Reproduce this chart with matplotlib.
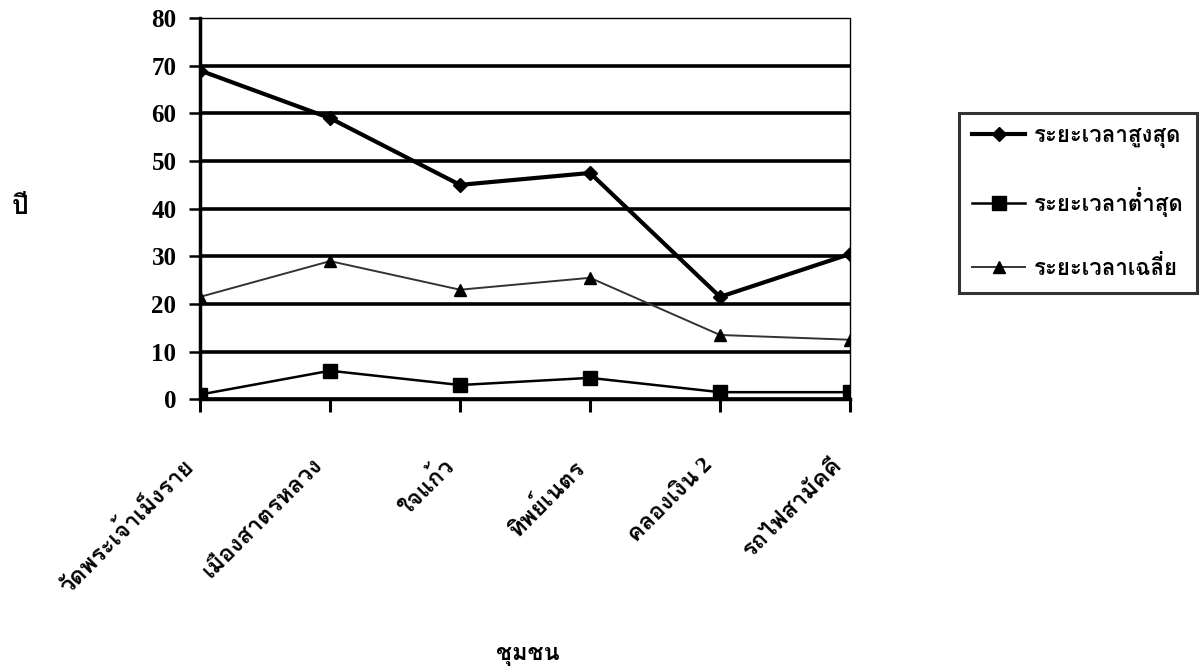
import matplotlib
matplotlib.use("Agg")
import matplotlib.pyplot as plt
import matplotlib.transforms as mtransforms
from matplotlib import font_manager
from fontTools.ttLib import TTFont

# categories and values
communities = ["วัดพระเจ้าเม็งราย", "เมืองสาตรหลวง", "ใจแก้ว", "ทิพย์เนตร",
               "คลองเงิน 2", "รถไฟสามัคคี"]
max_years = [69, 59, 45, 47.5, 21.5, 30.5]
min_years = [1, 6, 3, 4.5, 1.5, 1.5]
avg_years = [21.5, 29, 23, 25.5, 13.5, 12.5]
series_names = ["ระยะเวลาสูงสุด", "ระยะเวลาต่ำสุด", "ระยะเวลาเฉลี่ย"]
y_ticks = [0, 10, 20, 30, 40, 50, 60, 70, 80]


def thai_fonts():
    found = []
    for f in font_manager.fontManager.ttflist:
        try:
            tt = TTFont(f.fname, fontNumber=0, lazy=True)
            cmap = tt.getBestCmap() or {}
            if 0x0E01 in cmap and 0x0E40 in cmap:
                found.append(f.name)
        except Exception:
            pass
    return list(dict.fromkeys(found))


THAI = thai_fonts()
plt.rcParams["font.family"] = ["Liberation Serif"] + THAI + ["DejaVu Sans"]

x = list(range(len(communities)))
fig = plt.figure(figsize=(12.03, 6.70), dpi=100)
ax = fig.add_axes([0.1663, 0.404, 0.5403, 0.569])

for y in y_ticks[:-1]:
    ax.axhline(y, color="black", lw=2.6, zorder=1)

ax.plot(x, max_years, "-D", color="black", lw=3, ms=7.5, label=series_names[0], zorder=3)
ax.plot(x, min_years, "-s", color="black", lw=1.8, ms=9.5, label=series_names[1], zorder=3)
ax.plot(x, avg_years, "-^", color="#333333", mfc="black", mec="black", lw=1.4, ms=8,
        label=series_names[2], zorder=3)

ax.set_xlim(0, 5)
ax.set_ylim(0, 80)
ax.set_yticks(y_ticks)
ax.set_yticklabels([str(v) for v in y_ticks], fontsize=18, fontweight="bold")
ax.set_xticks(x)
ax.set_xticklabels(communities, rotation=45, ha="right", va="top",
                   fontsize=17, fontweight="bold", rotation_mode="anchor")
ax.tick_params(axis="x", length=9, width=2.2, direction="out", pad=0)
ax.tick_params(axis="y", length=8, width=1.8, direction="out", pad=9)

# shift the slanted labels down and left, as in the reference
shift = mtransforms.ScaledTranslation(-0.18, -0.43, fig.dpi_scale_trans)
for lab in ax.get_xticklabels():
    lab.set_transform(lab.get_transform() + shift)

ax.spines["left"].set_linewidth(2.5)
ax.spines["bottom"].set_linewidth(2.5)
ax.spines["top"].set_linewidth(1)
ax.spines["top"].set_linestyle((0, (1, 1)))
ax.spines["right"].set_linewidth(1)

fig.text(0.017, 0.69, "ปี", fontsize=19, fontweight="bold", ha="center", va="center")
fig.text(0.439, 0.021, "ชุมชน", fontsize=17, fontweight="bold", ha="center", va="center")

leg = fig.legend(loc="upper left", bbox_to_anchor=(0.797, 0.831), frameon=True,
                 fancybox=False, edgecolor="black",
                 prop={"weight": "bold", "size": 16}, handlelength=2.4,
                 labelspacing=1.75, borderpad=0.6, handletextpad=0.4,
                 borderaxespad=0)
leg.get_frame().set_linewidth(2.2)

fig.savefig("out.png", dpi=100)
